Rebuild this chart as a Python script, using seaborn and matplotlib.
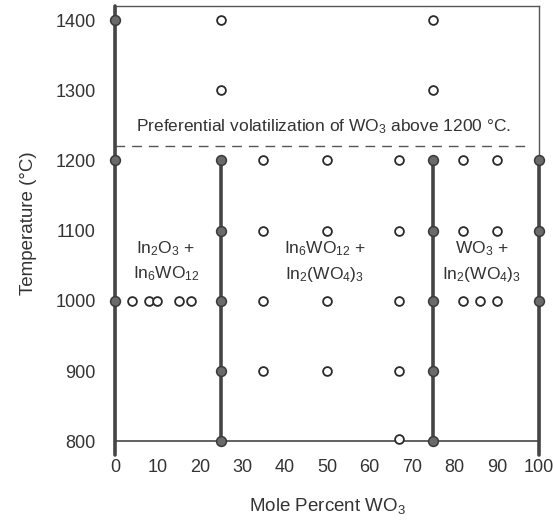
import matplotlib
matplotlib.use("Agg")
import matplotlib.pyplot as plt
import seaborn as sns
import pandas as pd

# ---- data ----
open_x = [25, 75, 25, 75,
          35, 50, 67, 82, 90,
          35, 50, 67, 82, 90,
          4, 8, 10, 15, 18, 35, 50, 67, 82, 86, 90,
          35, 50, 67,
          67]
open_y = [1400, 1400, 1300, 1300,
          1200, 1200, 1200, 1200, 1200,
          1100, 1100, 1100, 1100, 1100,
          1000, 1000, 1000, 1000, 1000, 1000, 1000, 1000, 1000, 1000, 1000,
          900, 900, 900,
          803]

filled_x = [0, 0, 0,
            25, 25, 25, 25, 25,
            75, 75, 75, 75, 75,
            100, 100, 100]
filled_y = [1400, 1200, 1000,
            1200, 1100, 1000, 900, 800,
            1200, 1100, 1000, 900, 800,
            1200, 1100, 1000]

boundary_x = [0, 25, 75, 100]
boundary_ylo = [780, 800, 800, 780]
boundary_yhi = [1420, 1200, 1200, 1200]

volatilization_T = 1220
x_ticks = list(range(0, 101, 10))
y_ticks = list(range(800, 1401, 100))

note_text = "Preferential volatilization of WO$_3$ above 1200 °C."
region_labels = [
    (12, "In$_2$O$_3$ +\nIn$_6$WO$_{12}$"),
    (49.5, "In$_6$WO$_{12}$ +\nIn$_2$(WO$_4$)$_3$"),
    (86.5, "WO$_3$ +\nIn$_2$(WO$_4$)$_3$"),
]

# ---- style ----
sns.set_style("white")
plt.rcParams["font.family"] = ["Liberation Sans", "DejaVu Sans"]
plt.rcParams["mathtext.default"] = "regular"
txt = "#333333"
line_c = "#454545"

fig = plt.figure(figsize=(5.53, 5.24), dpi=100)
ax = fig.add_axes([0.208, 0.158, 0.767, 0.8305])

# phase boundaries
for bx, lo, hi in zip(boundary_x, boundary_ylo, boundary_yhi):
    seg = pd.DataFrame({"x": [bx, bx], "y": [lo, hi]})
    sns.lineplot(data=seg, x="x", y="y", orient="y", estimator=None, ax=ax,
                 color=line_c, linewidth=2.6, clip_on=False, zorder=3)

# dashed volatilization line
dash = pd.DataFrame({"x": [0, 98], "y": [volatilization_T, volatilization_T]})
sns.lineplot(data=dash, x="x", y="y", estimator=None, ax=ax, color="#555555",
             linewidth=1.0, zorder=2)
ax.lines[-1].set_linestyle((0, (7, 5)))

# points
od = pd.DataFrame({"x": open_x, "y": open_y})
sns.scatterplot(data=od, x="x", y="y", ax=ax, s=40, facecolor="white",
                edgecolor="#2a2a2a", linewidth=1.3, zorder=5, clip_on=False)
fd = pd.DataFrame({"x": filled_x, "y": filled_y})
sns.scatterplot(data=fd, x="x", y="y", ax=ax, s=50, color="#6a6a6a",
                edgecolor="#3a3a3a", linewidth=1.1, zorder=6, clip_on=False)

# text
ax.text(5.0, 1248, note_text, fontsize=12.5, color=txt, va="center", ha="left")
for lx, lab in region_labels:
    ax.text(lx, 1056, lab, fontsize=12.5, color=txt, ha="center", va="center",
            linespacing=1.45)

ax.set_xlim(0, 100)
ax.set_ylim(800, 1420)
ax.set_xticks(x_ticks)
ax.set_yticks(y_ticks)
ax.tick_params(axis="both", direction="out", length=9, width=1.2,
               colors=txt, labelsize=13, pad=4)
ax.tick_params(axis="y", pad=5)
ax.set_xlabel("Mole Percent WO$_3$", fontsize=13.5, color=txt, labelpad=14)
ax.set_ylabel("Temperature (°C)", fontsize=13.5, color=txt, labelpad=13)

for side in ["top", "right", "bottom", "left"]:
    ax.spines[side].set_visible(True)
    ax.spines[side].set_color("#555555")
    ax.spines[side].set_linewidth(1.0)
ax.spines["bottom"].set_linewidth(1.3)
ax.grid(False)

fig.savefig("out.png", dpi=100, facecolor="white")
